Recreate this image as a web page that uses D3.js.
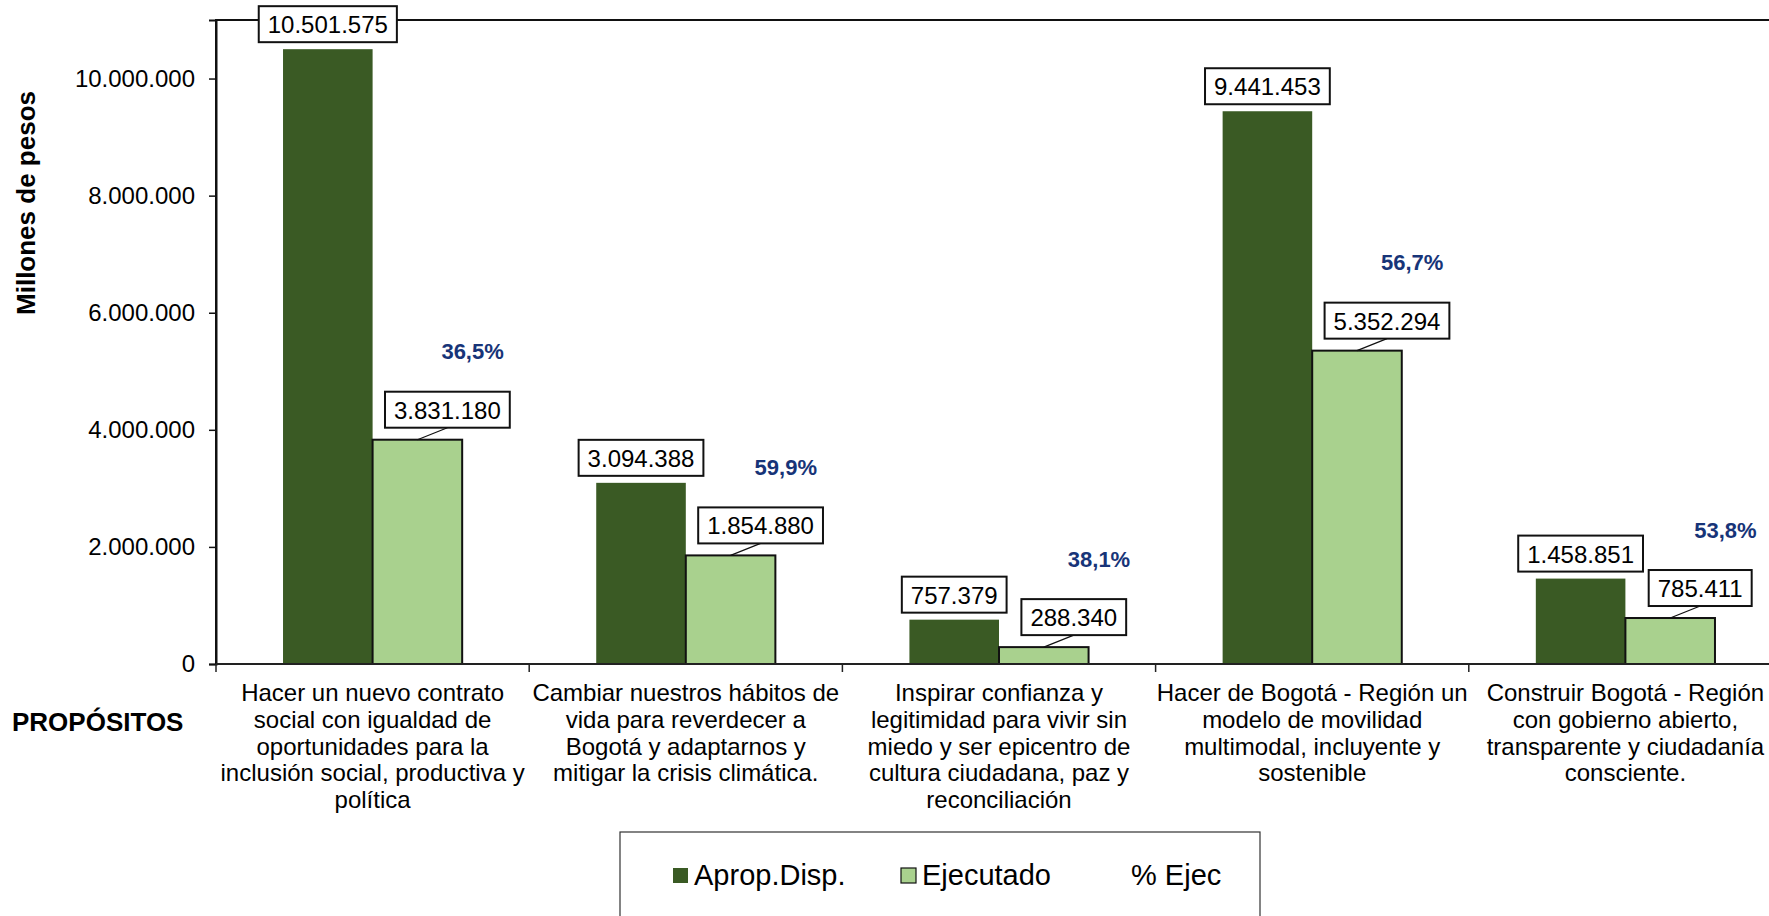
<!DOCTYPE html>
<html>
<head>
<meta charset="utf-8">
<script src="https://cdn.jsdelivr.net/npm/d3@7"></script>
<style>
  body { margin: 0; background: #fff; }
  svg { display: block; font-family: 'Liberation Sans', Arial, sans-serif; }
</style>
</head>
<body>
<div id="chart"></div>
<script>
// Data
const categories = [
  ['Hacer un nuevo contrato', 'social con igualdad de', 'oportunidades para la', 'inclusión social, productiva y', 'política'],
  ['Cambiar nuestros hábitos de', 'vida para reverdecer a', 'Bogotá y adaptarnos y', 'mitigar la crisis climática.'],
  ['Inspirar confianza y', 'legitimidad para vivir sin', 'miedo y ser epicentro de', 'cultura ciudadana, paz y', 'reconciliación'],
  ['Hacer de Bogotá - Región un', 'modelo de movilidad', 'multimodal, incluyente y', 'sostenible'],
  ['Construir Bogotá - Región', 'con gobierno abierto,', 'transparente y ciudadanía', 'consciente.']
];
const aprop = [10501575, 3094388, 757379, 9441453, 1458851];
const ejec = [3831180, 1854880, 288340, 5352294, 785411];
const pctEjec = [36.5, 59.9, 38.1, 56.7, 53.8];
const yTicks = [0, 2000000, 4000000, 6000000, 8000000, 10000000];
const seriesNames = ['Aprop.Disp.', 'Ejecutado', '% Ejec'];

// colours
const darkGreen = '#3a5a24';
const lightGreen = '#a9d18e';
const pctColor = '#173478';

const es = d3.formatLocale({ decimal: ',', thousands: '.', grouping: [3], currency: ['$', ''] });
const fmtNum = es.format(',d');
const fmtPct = es.format('.1f');

// Base positioning
const W = 1769, H = 916;
const margin = { top: 20, left: 216 };
const plotW = 1566, zeroY = 664;

const svg = d3.select('#chart')
  .append('svg')
  .attr('width', W)
  .attr('height', H);

const x0 = d3.scaleBand()
  .domain(d3.range(categories.length))
  .range([margin.left, margin.left + plotW]);
const cw = x0.bandwidth();
const x1 = d3.scaleBand()
  .domain([0, 1])
  .range([cw * 0.214, cw * 0.786]);
const y = d3.scaleLinear()
  .domain([0, 11000000])
  .range([zeroY, margin.top]);

// plot frame (top + left, right edge falls outside the page)
svg.append('rect')
  .attr('x', margin.left)
  .attr('y', margin.top)
  .attr('width', plotW)
  .attr('height', zeroY - margin.top)
  .attr('fill', 'none')
  .attr('stroke', '#111')
  .attr('stroke-width', 2);

// Y axis
svg.append('g')
  .attr('transform', 'translate(' + margin.left + ',0)')
  .call(d3.axisLeft(y).tickValues(yTicks).tickFormat(fmtNum).tickSize(7).tickPadding(14))
  .call(g => g.select('.domain').attr('stroke', '#111').attr('stroke-width', 2))
  .call(g => g.selectAll('.tick line').attr('stroke', '#111').attr('stroke-width', 1.5))
  .call(g => g.selectAll('.tick text')
    .attr('font-size', 24)
    .attr('fill', '#000')
    .attr('font-family', "'Liberation Sans', Arial, sans-serif"));

svg.append('text')
  .attr('transform', 'translate(26,203) rotate(-90)')
  .attr('text-anchor', 'middle')
  .attr('dy', '0.35em')
  .attr('font-size', 26)
  .attr('font-weight', 'bold')
  .text('Millones de pesos');

// bars
const groups = svg.append('g')
  .selectAll('g')
  .data(categories.map((c, i) => i))
  .join('g')
  .attr('transform', i => 'translate(' + x0(i) + ',0)');

groups.append('rect')
  .attr('x', x1(0))
  .attr('y', i => y(aprop[i]))
  .attr('width', x1.bandwidth())
  .attr('height', i => zeroY - y(aprop[i]))
  .attr('fill', darkGreen);

groups.append('rect')
  .attr('x', x1(1))
  .attr('y', i => y(ejec[i]))
  .attr('width', x1.bandwidth())
  .attr('height', i => zeroY - y(ejec[i]))
  .attr('fill', lightGreen)
  .attr('stroke', '#111')
  .attr('stroke-width', 2);

// X axis line + boundary ticks
svg.append('line')
  .attr('x1', margin.left).attr('x2', margin.left + plotW)
  .attr('y1', zeroY).attr('y2', zeroY)
  .attr('stroke', '#222').attr('stroke-width', 2);
svg.append('g')
  .selectAll('line')
  .data(d3.range(categories.length + 1))
  .join('line')
  .attr('x1', i => margin.left + i * x0.step())
  .attr('x2', i => margin.left + i * x0.step())
  .attr('y1', zeroY)
  .attr('y2', zeroY + 8)
  .attr('stroke', '#222')
  .attr('stroke-width', 1.5);

// category labels
const catText = svg.append('g')
  .selectAll('text')
  .data(categories)
  .join('text')
  .attr('x', (d, i) => x0(i) + cw / 2)
  .attr('y', 701)
  .attr('text-anchor', 'middle')
  .attr('font-size', 24)
  .attr('fill', '#000');
catText.selectAll('tspan')
  .data(d => d)
  .join('tspan')
  .attr('x', function () { return this.parentNode.getAttribute('x'); })
  .attr('dy', (d, j) => j === 0 ? 0 : 26.8)
  .text(d => d);

svg.append('text')
  .attr('x', 12)
  .attr('y', 731)
  .attr('font-size', 26)
  .attr('font-weight', 'bold')
  .text('PROPÓSITOS');

// boxed value labels
function boxLabel(g, cx, bottom, txt) {
  const t = g.append('text')
    .attr('x', cx)
    .attr('y', bottom - 9)
    .attr('text-anchor', 'middle')
    .attr('font-size', 24)
    .attr('fill', '#000')
    .text(txt);
  const w = t.node().getComputedTextLength() + 18;
  g.insert('rect', 'text')
    .attr('x', cx - w / 2)
    .attr('y', bottom - 36)
    .attr('width', w)
    .attr('height', 36)
    .attr('fill', '#fff')
    .attr('stroke', '#111')
    .attr('stroke-width', 2);
}

const labels = svg.append('g');
categories.forEach((c, i) => {
  const ga = labels.append('g');
  boxLabel(ga, x0(i) + x1(0) + x1.bandwidth() / 2, y(aprop[i]) - 7, fmtNum(aprop[i]));

  const barCx = x0(i) + x1(1) + x1.bandwidth() / 2;
  const boxCx = barCx + 30;
  const boxBottom = y(ejec[i]) - 12;
  const ge = labels.append('g');
  ge.append('line')
    .attr('x1', barCx).attr('y1', y(ejec[i]))
    .attr('x2', boxCx).attr('y2', boxBottom)
    .attr('stroke', '#111').attr('stroke-width', 1.2);
  boxLabel(ge, boxCx, boxBottom, fmtNum(ejec[i]));

  // % ejecutado label
  labels.append('text')
    .attr('x', x0(i) + cw / 2 + 100)
    .attr('y', y(ejec[i]) - 88)
    .attr('dy', '0.35em')
    .attr('text-anchor', 'middle')
    .attr('font-size', 22)
    .attr('font-weight', 'bold')
    .attr('fill', pctColor)
    .text(fmtPct(pctEjec[i]) + '%');
});

// legend
const legend = svg.append('g');
legend.append('rect')
  .attr('x', 620).attr('y', 832)
  .attr('width', 640).attr('height', 120)
  .attr('fill', '#fff')
  .attr('stroke', '#333')
  .attr('stroke-width', 1.2);
const legendItems = [
  { name: seriesNames[0], sx: 673, fill: darkGreen, stroke: 'none' },
  { name: seriesNames[1], sx: 901, fill: lightGreen, stroke: '#111' },
  { name: seriesNames[2], sx: 1110, fill: 'none', stroke: 'none' }
];
legendItems.forEach(d => {
  legend.append('rect')
    .attr('x', d.sx).attr('y', 868)
    .attr('width', 15).attr('height', 15)
    .attr('fill', d.fill)
    .attr('stroke', d.stroke)
    .attr('stroke-width', 1.2);
  legend.append('text')
    .attr('x', d.sx + 21)
    .attr('y', 885)
    .attr('font-size', 29)
    .attr('fill', '#000')
    .text(d.name);
});
</script>
</body>
</html>
